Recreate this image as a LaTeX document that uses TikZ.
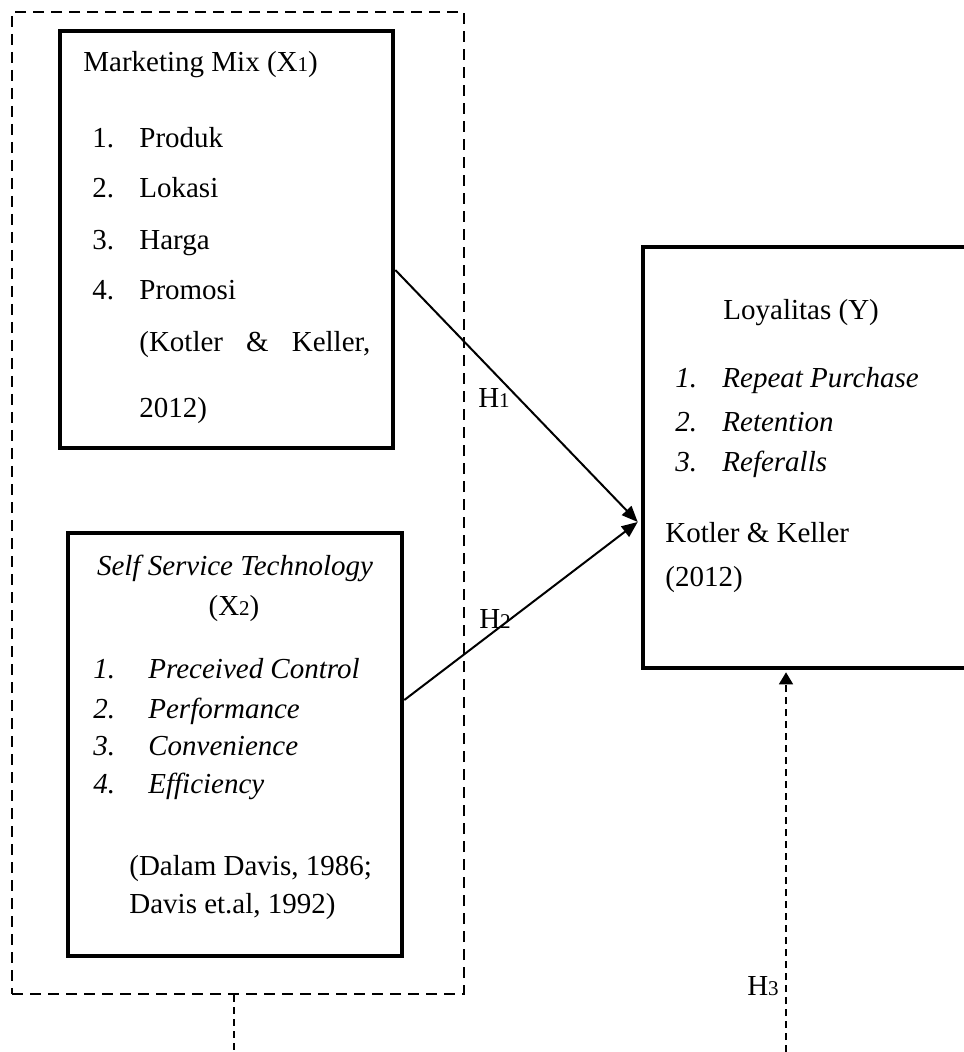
\documentclass[tikz,border=0pt]{standalone}
\usepackage{fontspec}
\setmainfont{Liberation Serif}
\usetikzlibrary{arrows.meta,positioning,calc}
\newcommand{\sdig}[1]{{\fontsize{10.5}{10.5}\selectfont #1}}

\begin{document}
\begin{tikzpicture}[x=0.5pt, y=-0.5pt,
  every node/.style={font=\fontsize{14.5}{18}\selectfont},
  varbox/.style={draw, line width=2.3pt, inner sep=0pt},
  groupbox/.style={draw, line width=1.2pt, dash pattern=on 5.5pt off 3.5pt, inner sep=0pt},
  txt/.style={anchor=west, inner sep=0pt, text height=10pt, text depth=3pt, yshift=-1.5pt},
  ctxt/.style={inner sep=0pt, text height=10pt, text depth=3pt, yshift=-1.5pt},
  hyp/.style={line width=1pt, -{Triangle[length=8pt,width=6.5pt]}},
  thindash/.style={line width=0.8pt, dash pattern=on 3.5pt off 2.5pt}]

    \useasboundingbox (0,0) rectangle (963,1052);

    \node[groupbox, minimum width=226pt, minimum height=491pt] (grp) at (238,503) {};
    \node[varbox, minimum width=166.5pt, minimum height=208.5pt] (mix) at (226.5,239.5) {};
    \node[varbox, minimum width=167pt, minimum height=211.5pt] (sst) at (235,744.5) {};
    \node[varbox, minimum width=166pt, minimum height=210.5pt] (loy) at (809,457.5) {};

    \node[txt] (mixtitle) at (83,62) {Marketing Mix (X\sdig{1})};
    \foreach \n/\item/\y in {1/Produk/138, 2/Lokasi/188, 3/Harga/240, 4/Promosi/290} {
        \node[txt] (mixnum\n) at (92,\y) {\n.};
        \node[txt] (mixitem\n) at (139,\y) {\item};
    }
    \node[txt] (mixref) at (139,342) {\makebox[115.5pt][s]{(Kotler \& Keller,}};
    \node[txt] (mixyear) at (139,408) {2012)};

    \node[ctxt] (ssttitle) at (235,565) {\itshape Self Service Technology};
    \node[ctxt] (sstvar) at (234,605) {(X\sdig{2})};
    \foreach \n/\item/\y in {1/Preceived Control/668, 2/Performance/708, 3/Convenience/745, 4/Efficiency/783} {
        \node[txt] (sstnum\n) at (93,\y) {\itshape \n.};
        \node[txt] (sstitem\n) at (148,\y) {\itshape \item};
    }
    \node[txt] (sstref) at (129,865) {(Dalam Davis, 1986;};
    \node[txt] (sstrefb) at (129,903) {Davis et.al, 1992)};

    \node[txt] (loytitle) at (723,310) {Loyalitas (Y)};
    \foreach \n/\item/\y in {1/Repeat Purchase/378, 2/Retention/422, 3/Referalls/462} {
        \node[txt] (loynum\n) at (675,\y) {\itshape \n.};
        \node[txt] (loyitem\n) at (722,\y) {\itshape \item};
    }
    \node[txt] (loyref) at (665,532) {Kotler \& Keller};
    \node[txt] (loyyear) at (665,576) {(2012)};

    \coordinate (tip) at ($(loy.west)+(-3,64.5)$);
    \draw[hyp] ($(mix.east)+(0,30.5)$) -- (tip);
    \draw[hyp] ($(sst.east)+(0,-44.5)$) -- (tip);

    \coordinate (h3foot) at (786,1052);
    \draw[thindash, -{Triangle[length=6pt,width=7pt]}, shorten >=1pt] (h3foot) -- (h3foot |- loy.south);
    \coordinate (stubfoot) at (234,1052);
    \draw[thindash] (stubfoot |- grp.south) -- (stubfoot);

    \node[ctxt] (hone) at (494,398) {H\sdig{1}};
    \node[ctxt] (htwo) at (495,618) {H\sdig{2}};
    \node[ctxt] (hthree) at (763,985) {H\sdig{3}};
\end{tikzpicture}
\end{document}
